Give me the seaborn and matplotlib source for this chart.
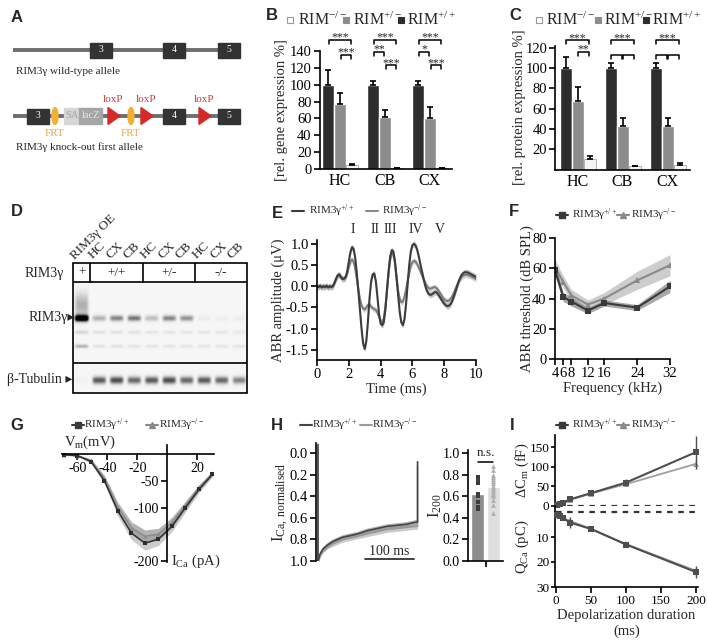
import numpy as np
import pandas as pd
import matplotlib
matplotlib.use("Agg")
import matplotlib.pyplot as plt
import seaborn as sns
from matplotlib.patches import Rectangle, Ellipse, Polygon
from matplotlib.lines import Line2D

sns.set_theme(style="ticks")
plt.rcParams["font.family"] = ["Liberation Serif", "DejaVu Sans"]
plt.rcParams["mathtext.fontset"] = "custom"
plt.rcParams["mathtext.rm"] = "Liberation Serif"
plt.rcParams["mathtext.it"] = "Liberation Serif:italic"
plt.rcParams["mathtext.bf"] = "Liberation Serif:bold"
plt.rcParams["axes.unicode_minus"] = False
plt.rcParams["font.size"] = 10

# ---------------- data ----------------
# A: allele schematic
wt_exon_labels = ["3", "4", "5"]
wt_exon_x = [90, 163, 218]
ko_exon_x = [27, 163, 218]
frt_x = [55, 131]
loxp_x = [108, 141, 199]

# B: relative gene expression (%)
regions = ["HC", "CB", "CX"]
genotypes = ["+/+", "+/-", "-/-"]
gene_wt = [100, 100, 100]
gene_wt_err = [17, 4, 5]
gene_het = [77, 62, 60]
gene_het_err = [13, 8, 14]
gene_ko = [5, 1, 1]
gene_ko_err = [1, 0.5, 0.5]

# C: relative protein expression (%)
prot_wt = [100, 100, 100]
prot_wt_err = [11, 5, 5]
prot_het = [67, 43, 43]
prot_het_err = [14, 8, 8]
prot_ko = [10, 3, 4]
prot_ko_err = [3, 0.6, 2]

# D: western blot band intensities per lane
lane_names = ["RIM3γ OE", "HC", "CX", "CB", "HC", "CX", "CB", "HC", "CX", "CB"]
rim_band = [1.3, 0.35, 0.5, 0.55, 0.3, 0.5, 0.45, 0.07, 0.07, 0.07]
oe_smear = [0.35, 0, 0, 0, 0, 0, 0, 0, 0, 0]
nonspec_1 = [0.2, 0.14, 0.14, 0.14, 0.12, 0.12, 0.12, 0.12, 0.12, 0.1]
nonspec_2 = [0.35, 0.13, 0.13, 0.12, 0.12, 0.12, 0.12, 0.12, 0.12, 0.12]
tubulin = [0.05, 0.65, 0.7, 0.6, 0.65, 0.7, 0.6, 0.65, 0.6, 0.5]

# E: ABR waveforms (uV), 0.1 ms sampling
e_time = np.round(np.arange(0, 10.01, 0.1), 1)
e_wt = [0.00, -0.02, 0.01, -0.03, 0.00, -0.02, 0.01, -0.03, 0.00, -0.02, 0.00,
        0.08, 0.18, 0.26, 0.28, 0.22, 0.17, 0.18, 0.22, 0.35, 0.58,
        0.80, 0.92, 0.88, 0.68, 0.32, -0.10, -0.55, -1.00, -1.35, -1.48,
        -1.30, -0.85, -0.30, 0.10, 0.28, 0.30, 0.12, -0.25, -0.65, -0.88,
        -0.92, -0.85, -0.55, -0.10, 0.35, 0.70, 0.85, 0.82, 0.60, 0.22,
        -0.20, -0.60, -0.85, -0.92, -0.78, -0.42, 0.05, 0.50, 0.82, 0.97,
        1.00, 0.96, 0.86, 0.70, 0.52, 0.35, 0.18, 0.02, -0.10, -0.17,
        -0.20, -0.20, -0.17, -0.14, -0.14, -0.18, -0.24, -0.30, -0.36, -0.41,
        -0.45, -0.47, -0.46, -0.42, -0.35, -0.25, -0.14, -0.02, 0.10, 0.20,
        0.27, 0.31, 0.33, 0.33, 0.32, 0.30, 0.28, 0.26, 0.24, 0.22]
e_ko = [0.00, -0.01, 0.01, -0.02, 0.00, -0.02, 0.01, -0.02, 0.00, -0.01, 0.00,
        0.08, 0.17, 0.24, 0.26, 0.21, 0.17, 0.17, 0.20, 0.30, 0.45,
        0.58, 0.63, 0.58, 0.42, 0.18, -0.08, -0.30, -0.45, -0.53, -0.55,
        -0.50, -0.44, -0.43, -0.48, -0.52, -0.54, -0.56, -0.62, -0.72, -0.82,
        -0.85, -0.75, -0.50, -0.10, 0.30, 0.62, 0.78, 0.76, 0.55, 0.20,
        -0.10, -0.30, -0.38, -0.36, -0.25, -0.08, 0.12, 0.32, 0.48, 0.57,
        0.60, 0.58, 0.52, 0.44, 0.35, 0.26, 0.17, 0.08, 0.01, -0.04,
        -0.06, -0.05, -0.03, -0.02, -0.04, -0.08, -0.14, -0.20, -0.26, -0.31,
        -0.34, -0.35, -0.34, -0.30, -0.24, -0.16, -0.07, 0.02, 0.10, 0.17,
        0.22, 0.25, 0.27, 0.27, 0.26, 0.25, 0.23, 0.21, 0.19, 0.17]
e_sem = 0.07
wave_names = ["I", "II", "III", "IV", "V"]
wave_times = [2.25, 3.65, 4.6, 6.2, 7.7]

# F: ABR thresholds (dB SPL)
f_freq = [4, 6, 8, 12, 16, 24, 32]
f_wt = [59, 41, 38, 32, 37, 34, 48]
f_wt_sem = [4, 3, 3, 2, 2, 2, 4]
f_ko = [61, 51, 42, 36, 40, 52, 62]
f_ko_sem = [5, 4, 4, 3, 4, 6, 7]

# G: Ca current-voltage relation
g_vm = [-69, -60, -51, -42, -33, -24, -15, -6, 3, 12, 21, 30]
g_wt = [-1, -3, -14, -50, -107, -148, -167, -159, -135, -100, -66, -38]
g_wt_sem = [1, 1, 3, 6, 10, 12, 13, 12, 10, 8, 6, 4]
g_ko = [-1, -3, -12, -46, -100, -138, -154, -150, -128, -96, -63, -36]
g_ko_sem = [1, 1, 3, 6, 9, 11, 12, 11, 10, 8, 6, 4]

# H: normalised Ca current during 200 ms depolarisation
h_t = [0, 0, 1, 3, 6, 10, 15, 20, 30, 40, 50, 60, 80, 100, 120, 140, 160, 180, 200, 203, 203]
h_wt = [-0.08, 1.0, 0.99, 0.95, 0.92, 0.89, 0.87, 0.85, 0.82, 0.80, 0.78, 0.77,
        0.75, 0.72, 0.70, 0.68, 0.67, 0.66, 0.64, 0.64, 0.08]
h_ko = [-0.05, 1.0, 0.99, 0.96, 0.93, 0.90, 0.88, 0.86, 0.84, 0.82, 0.80, 0.79,
        0.77, 0.75, 0.73, 0.71, 0.70, 0.69, 0.68, 0.68, 0.12]
h_sem = 0.025
i200_wt = [0.78, 0.75, 0.72, 0.62, 0.60, 0.55, 0.50, 0.48]
i200_ko = [0.88, 0.84, 0.80, 0.78, 0.76, 0.74, 0.72, 0.70, 0.68, 0.66, 0.64,
           0.62, 0.60, 0.57, 0.52, 0.45]

# I: exocytosis and Ca charge
i_dur = [2, 5, 10, 20, 50, 100, 200]
cm_wt = [2, 4, 8, 17, 33, 60, 138]
cm_wt_err = [1, 1, 2, 3, 4, 8, 42]
cm_ko = [2, 4, 7, 16, 32, 56, 108]
cm_ko_err = [1, 1, 2, 3, 4, 6, 14]
q_wt = [1.0, 1.5, 2.5, 4.2, 6.8, 13.0, 24.0]
q_wt_err = [0.3, 0.4, 0.6, 2.3, 0.5, 0.8, 2.5]
q_ko = [1.0, 1.4, 2.3, 3.6, 6.7, 12.8, 23.5]
q_ko_err = [0.3, 0.4, 0.6, 1.0, 0.5, 0.8, 1.5]

WT = r"RIM3γ$^{+/+}$"
KO = r"RIM3γ$^{-/-}$"
DARK = "#3a3a3a"
MID = "#8a8a8a"

# ---------------- figure ----------------
W, H = 708, 640
fig = plt.figure(figsize=(W / 100, H / 100), dpi=100)


def px_axes(l, t, r, b):
    return fig.add_axes([l / W, 1 - b / H, (r - l) / W, (b - t) / H])


def ftext(x, y, s, **kw):
    kw.setdefault("va", "center")
    return fig.text(x / W, 1 - y / H, s, **kw)


def style(ax, size=10.5):
    for s in ax.spines.values():
        s.set_linewidth(1.2)
        s.set_color("black")
    ax.tick_params(direction="out", length=4, width=1.2, colors="black",
                   labelsize=size, pad=2)
    ax.set_facecolor("none")


def ylabel_at(ax, text, px, fs=10.5):
    ax.set_ylabel(text, fontsize=fs)
    bb = ax.get_position()
    ax.yaxis.set_label_coords((px / W - bb.x0) / bb.width, 0.5)
    ax.yaxis.label.set_verticalalignment("center")


def leg_item(xh, xt, y, label, kind, color, fs=8, edge=None):
    yy = 1 - y / H
    if kind == "square":
        s = 6
        fig.add_artist(Rectangle((xh / W, (H - y - s / 2) / H), s / W, s / H,
                                 transform=fig.transFigure, facecolor=color,
                                 edgecolor=edge or color, lw=0.8))
    else:
        fig.add_artist(Line2D([xh / W, (xh + 12) / W], [yy, yy], transform=fig.transFigure,
                              color=color, lw=1.5))
        if kind in ("s", "^"):
            fig.add_artist(Line2D([(xh + 6) / W], [yy], transform=fig.transFigure,
                                  color=color, marker=kind, ms=4.5, lw=0))
    ftext(xt, y, label, fontsize=fs, ha="left")


def panel(x, y, s):
    ftext(x, y, s, fontfamily="Liberation Sans", fontweight="bold", fontsize=12, ha="center")


for x, y, s in [(17, 17, "A"), (272, 15, "B"), (515, 15, "C"), (17, 212, "D"),
                (277, 213, "E"), (514, 212, "F"), (17, 425, "G"), (277, 425, "H"),
                (512, 425, "I")]:
    panel(x, y, s)

# ---------- A: schematic ----------
axA = px_axes(0, 30, 245, 160)
axA.set_xlim(0, 245)
axA.set_ylim(160, 30)
axA.axis("off")
for ly, exx in [(50, wt_exon_x), (116, ko_exon_x)]:
    axA.plot([13, 240], [ly, ly], color="#6e6e6e", lw=2.8, solid_capstyle="butt", zorder=1)
    for lab, x0 in zip(wt_exon_labels, exx):
        axA.add_patch(Rectangle((x0, ly - 7.5), 22, 15, color="#333333", zorder=3))
        axA.text(x0 + 11, ly, lab, color="white", fontsize=7, ha="center", va="center", zorder=4)
axA.text(16, 72, "RIM3γ wild-type allele", fontsize=8, va="center")
axA.text(16, 147, "RIM3γ knock-out first allele", fontsize=8, va="center")
for x0 in frt_x:
    axA.add_patch(Ellipse((x0, 116), 6, 17, color="#f2b134", zorder=3))
    axA.text(x0, 133, "FRT", color="#eda63f", fontsize=8, ha="center", va="center")
axA.add_patch(Rectangle((64, 108), 15, 16, color="#d6d6d6", zorder=3))
axA.text(71.5, 116, "SA", color="#a3a3a3", fontsize=7.5, ha="center", va="center", zorder=4)
axA.add_patch(Rectangle((79, 108), 23, 16, color="#a6a6a6", zorder=3))
axA.text(90.5, 116, "lacZ", color="#e4e4e4", fontsize=7.5, ha="center", va="center", zorder=4)
for x0 in loxp_x:
    axA.add_patch(Polygon([[x0, 107.5], [x0, 124.5], [x0 + 12, 116]], color="#d42a2a", zorder=3))
    axA.text(x0 + 5, 99, "loxP", color="#c83a3a", fontsize=8, ha="center", va="center")


# ---------- B & C: bar charts ----------
def bracket(ax, x1, x2, y, h, label):
    ax.plot([x1, x1, x2, x2], [y - h, y, y, y - h], color="black", lw=1.1, clip_on=False)
    if label:
        ax.text((x1 + x2) / 2, y + h * 0.6, label, ha="center", va="center", fontsize=8.5,
                clip_on=False)


def expr_bars(ax, wt, wte, het, hete, ko, koe, ylim, yticks, pxunit, brackets):
    df = pd.DataFrame({
        "region": regions * 3,
        "genotype": [g for g in genotypes for _ in regions],
        "value": wt + het + ko,
    })
    sns.barplot(data=df, x="region", y="value", hue="genotype", hue_order=genotypes,
                palette=["#2d2d2d", "#8c8c8c", "#f4f4f4"], errorbar=None, width=0.8,
                saturation=1, legend=False, ax=ax)
    centers = []
    for cont, vals, errs in zip(ax.containers, [wt, het, ko], [wte, hete, koe]):
        xs = [p.get_x() + p.get_width() / 2 for p in cont.patches]
        centers.append(xs)
        ax.errorbar(xs, vals, yerr=[np.zeros(3), errs], fmt="none", ecolor="black",
                    elinewidth=1.2, capsize=2.5, capthick=1.2, zorder=3)
    for p in ax.containers[2].patches:
        p.set_edgecolor("#b0b0b0")
        p.set_linewidth(0.7)
    ax.set_ylim(*ylim)
    ax.set_xlim(-0.5, 2.5)
    ax.set_yticks(yticks)
    ax.set_xlabel("")
    ax.set_ylabel("")
    style(ax)
    ax.tick_params(axis="x", length=0, labelsize=11.5, pad=3)
    sns.despine(ax=ax)
    h = 4 / pxunit
    for gi, a, b, y, lab in brackets:
        bracket(ax, centers[a][gi] + 0.02, centers[b][gi] - 0.02, y, h, lab)


axB = px_axes(320, 51, 452, 169)
expr_bars(axB, gene_wt, gene_wt_err, gene_het, gene_het_err, gene_ko, gene_ko_err,
          (0, 140), range(0, 141, 20), 0.843,
          [(0, 0, 2, 153, "***"), (0, 1, 2, 135, "***"),
           (1, 0, 2, 153, "***"), (1, 0, 1, 139, "**"), (1, 1, 2, 123, "***"),
           (2, 0, 2, 153, "***"), (2, 0, 1, 139, "*"), (2, 1, 2, 123, "***")])
axB.set_xlim(-0.44, 2.49)
ylabel_at(axB, "[rel. gene expression %]", 282)

axC = px_axes(555, 45.5, 690, 169.5)
expr_bars(axC, prot_wt, prot_wt_err, prot_het, prot_het_err, prot_ko, prot_ko_err,
          (0, 122), range(20, 121, 20), 1.0167,
          [(0, 0, 2, 127, "***"), (0, 1, 2, 116, "**"),
           (1, 0, 2, 127, "***"), (1, 0, 1, 112.6, ""), (1, 1, 2, 112.6, ""),
           (2, 0, 2, 127, "***"), (2, 0, 1, 112.6, ""), (2, 1, 2, 112.6, "")])
axC.set_xlim(-0.5, 2.5)
axC.tick_params(axis="y", labelsize=10.5, pad=1.5)
ylabel_at(axC, "[rel. protein expression %]", 519)

for xh, xt, lab, col in [(287, 298, r"RIM$^{-/-}$", "#ffffff"), (343, 353, r"RIM$^{+/-}$", "#8c8c8c"),
                         (398, 407, r"RIM$^{+/+}$", "#2d2d2d")]:
    leg_item(xh, xt, 20, lab, "square", col, fs=11.5, edge="#999999" if col == "#ffffff" else None)
for xh, xt, lab, col in [(536, 546, r"RIM$^{-/-}$", "#ffffff"), (595, 604, r"RIM$^{+/-}$", "#8c8c8c"),
                         (643, 652, r"RIM$^{+/+}$", "#2d2d2d")]:
    leg_item(xh, xt, 20, lab, "square", col, fs=11.5, edge="#999999" if col == "#ffffff" else None)

# ---------- D: western blot ----------
axD = px_axes(73, 263, 247, 393)
axD.set_xlim(0, 10)
axD.set_ylim(130, 0)
axD.axis("off")
sub = 20
ys = np.arange(19, 130, 0.5)
xs = (np.arange(10 * sub) + 0.5) / sub
lane_idx = xs.astype(int)
colprof = np.exp(-(((xs - lane_idx) - 0.5) / 0.4) ** 6)
img = np.full((len(ys), len(xs)), 0.07)
for y0, sig, amps in [(55, 3.2, rim_band), (42, 13, oe_smear), (69, 2.0, nonspec_1),
                      (83, 2.0, nonspec_2), (117, 4.0, tubulin)]:
    img += np.outer(np.exp(-((ys - y0) / sig) ** 2), np.array(amps)[lane_idx] * colprof)
img = np.clip(img, 0, 1)
axD.imshow(img, extent=(0, 10, 130, 19), cmap="Greys", vmin=0, vmax=1, aspect="auto",
           interpolation="bilinear")
axD.add_patch(Rectangle((0, 0), 10, 130, fill=False, lw=1.2, ec="black", clip_on=False))
axD.plot([0, 10], [19, 19], color="black", lw=1.2)
axD.plot([0, 10], [100, 100], color="black", lw=1.2)
for xd in [1, 4, 7]:
    axD.plot([xd, xd], [0, 19], color="black", lw=1.2)
for xc, lab in [(0.5, "+"), (2.5, "+/+"), (5.5, "+/-"), (8.5, "-/-")]:
    axD.text(xc, 10, lab, ha="center", va="center", fontsize=9.5)
for i, lab in enumerate(lane_names):
    axD.text(i + 0.25, -1.5, lab, rotation=45, rotation_mode="anchor", ha="left",
             va="bottom", fontsize=9.5, clip_on=False)
ftext(25, 273, "RIM3γ", fontsize=10, ha="left")
ftext(75, 318, "RIM3γ▸", fontsize=10, ha="right")
ftext(72, 379, "β-Tubulin ▸", fontsize=10, ha="right")

# ---------- E: ABR waveforms ----------
axE = px_axes(317, 240, 476, 360)
for ys_, col, band in [(e_ko, "#7e7e7e", "#c4c4c4"), (e_wt, "#3c3c3c", "#a8a8a8")]:
    axE.fill_between(e_time, np.array(ys_) - e_sem, np.array(ys_) + e_sem, color=band,
                     alpha=0.7, lw=0)
    sns.lineplot(x=e_time, y=ys_, ax=axE, color=col, linewidth=1.5, errorbar=None)
axE.set_xlim(0, 10)
axE.set_ylim(-1.74, 1.09)
axE.set_xticks(range(0, 11, 2))
axE.set_yticks([-1.5, -1.0, -0.5, 0.0, 0.5, 1.0])
axE.yaxis.set_major_formatter(matplotlib.ticker.FormatStrFormatter("%.1f"))
style(axE)
sns.despine(ax=axE)
axE.set_xlabel("Time (ms)", fontsize=10.5, labelpad=1)
ylabel_at(axE, "ABR amplitude (μV)", 278)
for nm, tt in zip(wave_names, wave_times):
    axE.text(tt, 1.33, nm, ha="center", va="center", fontsize=10, clip_on=False)
leg_item(292, 309, 211, WT, "line", "#3c3c3c")
leg_item(366, 382, 211, KO, "line", "#8a8a8a")

# ---------- F: ABR thresholds ----------
axF = px_axes(555, 238, 670, 359)
axF.fill_between(f_freq, np.array(f_ko) - f_ko_sem, np.array(f_ko) + f_ko_sem,
                 color="#cdcdcd", lw=0)
axF.fill_between(f_freq, np.array(f_wt) - f_wt_sem, np.array(f_wt) + f_wt_sem,
                 color="#7a7a7a", alpha=0.65, lw=0)
sns.lineplot(x=f_freq, y=f_ko, ax=axF, color=MID, marker="^", markersize=4.5,
             markeredgewidth=0, linewidth=1.5, errorbar=None)
sns.lineplot(x=f_freq, y=f_wt, ax=axF, color=DARK, marker="s", markersize=4,
             markeredgewidth=0, linewidth=1.5, errorbar=None)
axF.set_xlim(4, 32)
axF.set_ylim(0, 80)
axF.set_xticks(f_freq)
axF.set_yticks(range(0, 81, 20))
style(axF)
sns.despine(ax=axF)
axF.set_xlabel("Frequency (kHz)", fontsize=10.5, labelpad=1)
ylabel_at(axF, "ABR threshold (dB SPL)", 527)
leg_item(556, 572, 215, WT, "s", DARK)
leg_item(617, 631, 215, KO, "^", MID)

# ---------- G: I-V ----------
axG = px_axes(62, 445, 214, 562)
axG.fill_between(g_vm, np.array(g_ko) - g_ko_sem, np.array(g_ko) + g_ko_sem,
                 color="#a6a6a6", alpha=0.85, lw=0)
axG.fill_between(g_vm, np.array(g_wt) - g_wt_sem, np.array(g_wt) + g_wt_sem,
                 color="#9a9a9a", alpha=0.5, lw=0)
sns.lineplot(x=g_vm, y=g_ko, ax=axG, color="#8c8c8c", marker="^", markersize=3,
             markeredgewidth=0, linewidth=1.2, errorbar=None)
sns.lineplot(x=g_vm, y=g_wt, ax=axG, color="#2e2e2e", marker="s", markersize=2.8,
             markeredgewidth=0, linewidth=1.1, errorbar=None)
axG.set_xlim(-70.3, 31)
axG.set_ylim(-202, 17)
axG.spines["left"].set_position(("data", 0))
axG.spines["bottom"].set_position(("data", 0))
axG.spines["top"].set_visible(False)
axG.spines["right"].set_visible(False)
axG.set_xticks([-60, -40, -20, 20])
axG.set_yticks([-200, -100, -50])
style(axG, 10)
axG.set_xlabel("")
axG.set_ylabel("")
ftext(64, 442, r"V$_\mathrm{m}$(mV)", fontsize=10.5, ha="left")
ftext(171, 561, r"I$_\mathrm{Ca}$ (pA)", fontsize=10.5, ha="left")
leg_item(72, 84, 425, WT, "s", DARK)
leg_item(146, 159, 425, KO, "^", MID)

# ---------- H: inactivation ----------
axH = px_axes(316, 443, 420, 561)
for tr, band, a in [(h_ko, "#bdbdbd", 0.8), (h_wt, "#6a6a6a", 0.5)]:
    axH.fill_between(h_t[2:-1], np.array(tr[2:-1]) - h_sem, np.array(tr[2:-1]) + h_sem,
                     color=band, alpha=a, lw=0)
axH.plot(h_t, h_ko, color="#9a9a9a", lw=1.0)
axH.plot(h_t, h_wt, color="#444444", lw=1.2)
axH.set_xlim(-4, 208)
axH.set_ylim(1.0, -0.093)
axH.set_yticks(np.round(np.arange(0, 1.01, 0.2), 1))
axH.yaxis.set_major_formatter(matplotlib.ticker.FormatStrFormatter("%.1f"))
axH.set_xticks([])
style(axH)
sns.despine(ax=axH, bottom=True)
axH.plot([96, 196], [0.985, 0.985], color="#333333", lw=1.3, clip_on=False)
axH.text(146, 0.91, "100 ms", ha="center", va="center", fontsize=10)
ylabel_at(axH, r"I$_{\mathrm{Ca,\ normalised}}$", 280, fs=12)
leg_item(300, 312, 425, WT, "line", "#444444")
leg_item(360, 372, 425, KO, "line", "#9a9a9a")

axHi = px_axes(468, 450, 503, 561)
dfi = pd.DataFrame({"g": ["wt"] * len(i200_wt) + ["ko"] * len(i200_ko),
                    "v": i200_wt + i200_ko})
sns.barplot(data=dfi, x="g", y="v", hue="g", order=["wt", "ko"], hue_order=["wt", "ko"],
            palette=["#8c8c8c", "#dedede"], errorbar=None, width=0.85, saturation=1,
            legend=False, ax=axHi)
sns.stripplot(data=dfi[dfi.g == "wt"], x="g", y="v", order=["wt", "ko"], jitter=False,
              marker="s", color="#3c3c3c", size=3, ax=axHi)
sns.stripplot(data=dfi[dfi.g == "ko"], x="g", y="v", order=["wt", "ko"], jitter=False,
              marker="^", color="#b0b0b0", size=3.5, ax=axHi)
axHi.set_xlim(-0.6, 1.6)
axHi.set_ylim(0, 1.03)
axHi.set_yticks(np.round(np.arange(0, 1.01, 0.2), 1))
axHi.yaxis.set_major_formatter(matplotlib.ticker.FormatStrFormatter("%.1f"))
axHi.set_xticks([0.5])
axHi.set_xticklabels([""])
axHi.set_xlabel("")
style(axHi, 10)
sns.despine(ax=axHi)
axHi.plot([0, 1], [0.92, 0.92], color="black", lw=1.1, clip_on=False)
axHi.text(0.5, 1.0, "n.s.", ha="center", va="center", fontsize=9.5, clip_on=False)
ylabel_at(axHi, r"I$_{200}$", 435, fs=12)

# ---------- I: exocytosis ----------
axIu = px_axes(555, 435, 698, 506)
axIl = px_axes(555, 506, 698, 587)
for ax_, (mwt, ewt, mko, eko) in [(axIu, (cm_wt, cm_wt_err, cm_ko, cm_ko_err)),
                                  (axIl, (q_wt, q_wt_err, q_ko, q_ko_err))]:
    ax_.errorbar(i_dur, mko, yerr=eko, fmt="-^", color="#a0a0a0", ms=4.5, mew=0,
                 lw=1.3, capsize=2, elinewidth=1, clip_on=False, zorder=3)
    ax_.errorbar(i_dur, mwt, yerr=ewt, fmt="-s", color="#4e4e4e", ms=4, mew=0,
                 lw=1.5, capsize=2, elinewidth=1, clip_on=False, zorder=4)
    ax_.hlines(0, 0, 200, colors="#333333", linestyles=(0, (2.5, 2.5)), lw=1.6, zorder=2)
    ax_.set_xlim(-1.5, 203)
    style(ax_, 9.5)
    ax_.tick_params(axis="y", length=3, pad=1)
axIu.set_ylim(0, 182)
axIu.set_yticks([0, 50, 100, 150])
axIu.set_xticks([])
sns.despine(ax=axIu, bottom=True)
axIl.set_ylim(30, -2.4)
axIl.set_yticks([10, 20, 30])
axIl.set_xticks(range(0, 201, 50))
sns.despine(ax=axIl)
axIl.set_xlabel("Depolarization duration\n(ms)", fontsize=10.5, labelpad=1, linespacing=1.3)
ylabel_at(axIu, r"ΔC$_\mathrm{m}$ (fF)", 522, fs=10.5)
ylabel_at(axIl, r"Q$_\mathrm{Ca}$ (pC)", 522, fs=10.5)
leg_item(556, 572, 425, WT, "s", DARK)
leg_item(617, 631, 425, KO, "^", MID)

fig.savefig("out.png", dpi=100)
